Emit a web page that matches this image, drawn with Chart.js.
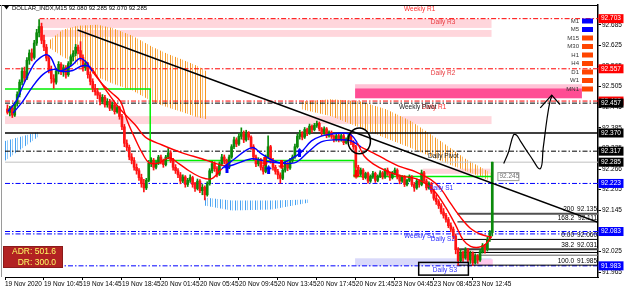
<!DOCTYPE html>
<html lang="en">
<head>
<meta charset="UTF-8">
<meta name="viewport" content="width=device-width, initial-scale=1.0">
<script src="https://cdn.jsdelivr.net/npm/chart.js@4.4.6/dist/chart.umd.min.js"></script>
<title>DOLLAR_INDX,M15</title>
<style>
  body { margin: 0; background: #fff; }
  #box { width: 625px; height: 288px; }
</style>
</head>
<body>
<div id="box"><canvas id="dxy"></canvas></div>
<script>
// M15 bars, one row = 10 bars
const opens = [
  92.440, 92.430, 92.442, 92.422, 92.455, 92.482, 92.518, 92.550, 92.530, 92.582,
  92.603, 92.590, 92.632, 92.662, 92.680, 92.640, 92.620, 92.588, 92.552, 92.528,
  92.518, 92.550, 92.570, 92.548, 92.560, 92.540, 92.572, 92.592, 92.602, 92.620,
  92.610, 92.590, 92.560, 92.572, 92.540, 92.520, 92.500, 92.490, 92.480, 92.462,
  92.474, 92.452, 92.462, 92.442, 92.452, 92.432, 92.444, 92.418, 92.388, 92.340,
  92.328, 92.300, 92.290, 92.270, 92.260, 92.240, 92.222, 92.210, 92.232, 92.282,
  92.290, 92.270, 92.282, 92.300, 92.288, 92.278, 92.300, 92.312, 92.290, 92.270,
  92.260, 92.248, 92.230, 92.242, 92.220, 92.232, 92.240, 92.220, 92.208, 92.230,
  92.202, 92.212, 92.190, 92.222, 92.260, 92.280, 92.266, 92.250, 92.280, 92.300,
  92.288, 92.270, 92.300, 92.330, 92.350, 92.338, 92.360, 92.370, 92.350, 92.370,
  92.358, 92.330, 92.300, 92.280, 92.292, 92.270, 92.258, 92.300, 92.330, 92.290,
  92.270, 92.258, 92.248, 92.238, 92.262, 92.280, 92.268, 92.290, 92.300, 92.330,
  92.360, 92.370, 92.358, 92.380, 92.370, 92.390, 92.380, 92.392, 92.398, 92.382,
  92.370, 92.382, 92.362, 92.372, 92.360, 92.350, 92.362, 92.350, 92.362, 92.342,
  92.352, 92.362, 92.342, 92.330, 92.270, 92.250, 92.262, 92.240, 92.252, 92.230,
  92.242, 92.252, 92.232, 92.244, 92.254, 92.242, 92.262, 92.250, 92.240, 92.252,
  92.262, 92.242, 92.230, 92.242, 92.220, 92.232, 92.242, 92.220, 92.210, 92.230,
  92.220, 92.254, 92.230, 92.210, 92.222, 92.200, 92.180, 92.170, 92.158, 92.140,
  92.130, 92.118, 92.100, 92.090, 92.070, 92.030, 91.998, 92.022, 92.006, 92.030,
  92.000, 92.020, 91.992, 92.012, 92.000, 92.024, 92.042, 92.030, 92.060, 92.080
];
const highs = [
  92.452, 92.448, 92.450, 92.460, 92.490, 92.525, 92.560, 92.562, 92.590, 92.612,
  92.615, 92.640, 92.672, 92.700, 92.690, 92.655, 92.628, 92.595, 92.565, 92.540,
  92.558, 92.578, 92.575, 92.568, 92.566, 92.578, 92.598, 92.610, 92.628, 92.626,
  92.636, 92.598, 92.580, 92.576, 92.548, 92.528, 92.512, 92.500, 92.488, 92.482,
  92.480, 92.470, 92.468, 92.460, 92.458, 92.450, 92.448, 92.424, 92.395, 92.350,
  92.335, 92.310, 92.298, 92.280, 92.266, 92.250, 92.235, 92.238, 92.290, 92.298,
  92.296, 92.288, 92.305, 92.306, 92.294, 92.305, 92.325, 92.318, 92.296, 92.278,
  92.266, 92.255, 92.248, 92.246, 92.238, 92.248, 92.244, 92.226, 92.236, 92.234,
  92.220, 92.216, 92.228, 92.266, 92.288, 92.286, 92.272, 92.286, 92.308, 92.306,
  92.294, 92.306, 92.336, 92.358, 92.356, 92.368, 92.385, 92.376, 92.378, 92.374,
  92.362, 92.336, 92.306, 92.298, 92.296, 92.276, 92.306, 92.362, 92.334, 92.296,
  92.276, 92.264, 92.254, 92.268, 92.288, 92.284, 92.296, 92.306, 92.338, 92.366,
  92.378, 92.374, 92.386, 92.384, 92.396, 92.394, 92.398, 92.405, 92.402, 92.386,
  92.388, 92.386, 92.376, 92.376, 92.364, 92.366, 92.366, 92.368, 92.366, 92.356,
  92.368, 92.366, 92.348, 92.334, 92.276, 92.268, 92.266, 92.256, 92.256, 92.248,
  92.258, 92.256, 92.248, 92.260, 92.258, 92.266, 92.268, 92.256, 92.258, 92.268,
  92.266, 92.248, 92.246, 92.246, 92.236, 92.248, 92.246, 92.226, 92.236, 92.234,
  92.262, 92.258, 92.236, 92.228, 92.226, 92.206, 92.190, 92.176, 92.164, 92.150,
  92.136, 92.124, 92.108, 92.096, 92.076, 92.036, 92.030, 92.026, 92.036, 92.034,
  92.026, 92.024, 92.018, 92.016, 92.030, 92.048, 92.046, 92.066, 92.086, 92.285
];
const lows = [
  92.425, 92.420, 92.415, 92.418, 92.448, 92.475, 92.510, 92.520, 92.525, 92.570,
  92.580, 92.585, 92.625, 92.650, 92.630, 92.610, 92.580, 92.545, 92.515, 92.500,
  92.512, 92.542, 92.540, 92.535, 92.530, 92.535, 92.565, 92.580, 92.595, 92.600,
  92.580, 92.550, 92.552, 92.530, 92.510, 92.490, 92.480, 92.470, 92.452, 92.455,
  92.445, 92.445, 92.435, 92.436, 92.425, 92.428, 92.410, 92.380, 92.330, 92.318,
  92.292, 92.280, 92.262, 92.250, 92.232, 92.212, 92.198, 92.205, 92.228, 92.272,
  92.262, 92.265, 92.278, 92.280, 92.270, 92.274, 92.295, 92.284, 92.262, 92.252,
  92.240, 92.222, 92.225, 92.212, 92.214, 92.226, 92.212, 92.200, 92.204, 92.196,
  92.190, 92.175, 92.186, 92.218, 92.254, 92.258, 92.242, 92.246, 92.274, 92.280,
  92.262, 92.266, 92.296, 92.324, 92.330, 92.334, 92.352, 92.342, 92.346, 92.350,
  92.322, 92.292, 92.272, 92.274, 92.262, 92.250, 92.254, 92.296, 92.282, 92.262,
  92.250, 92.236, 92.224, 92.234, 92.256, 92.260, 92.264, 92.284, 92.296, 92.326,
  92.352, 92.350, 92.354, 92.362, 92.366, 92.372, 92.376, 92.386, 92.376, 92.362,
  92.366, 92.356, 92.358, 92.354, 92.344, 92.346, 92.344, 92.346, 92.336, 92.338,
  92.348, 92.336, 92.322, 92.262, 92.244, 92.246, 92.234, 92.236, 92.224, 92.226,
  92.238, 92.226, 92.228, 92.240, 92.236, 92.238, 92.246, 92.232, 92.236, 92.248,
  92.236, 92.222, 92.226, 92.214, 92.216, 92.228, 92.214, 92.200, 92.206, 92.212,
  92.216, 92.224, 92.204, 92.206, 92.194, 92.174, 92.162, 92.150, 92.134, 92.122,
  92.110, 92.094, 92.082, 92.062, 92.018, 91.985, 91.994, 91.996, 92.002, 91.992,
  91.990, 91.984, 91.988, 91.990, 91.996, 92.020, 92.020, 92.026, 92.054, 92.070
];
const closes = [
  92.430, 92.442, 92.422, 92.455, 92.482, 92.518, 92.550, 92.530, 92.582, 92.603,
  92.590, 92.632, 92.662, 92.680, 92.640, 92.620, 92.588, 92.552, 92.528, 92.518,
  92.550, 92.570, 92.548, 92.560, 92.540, 92.572, 92.592, 92.602, 92.620, 92.610,
  92.590, 92.560, 92.572, 92.540, 92.520, 92.500, 92.490, 92.480, 92.462, 92.474,
  92.452, 92.462, 92.442, 92.452, 92.432, 92.444, 92.418, 92.388, 92.340, 92.328,
  92.300, 92.290, 92.270, 92.260, 92.240, 92.222, 92.210, 92.232, 92.282, 92.290,
  92.270, 92.282, 92.300, 92.288, 92.278, 92.300, 92.312, 92.290, 92.270, 92.260,
  92.248, 92.230, 92.242, 92.220, 92.232, 92.240, 92.220, 92.208, 92.230, 92.202,
  92.212, 92.190, 92.222, 92.260, 92.280, 92.266, 92.250, 92.280, 92.300, 92.288,
  92.270, 92.300, 92.330, 92.350, 92.338, 92.360, 92.370, 92.350, 92.370, 92.358,
  92.330, 92.300, 92.280, 92.292, 92.270, 92.258, 92.300, 92.330, 92.290, 92.270,
  92.258, 92.248, 92.238, 92.262, 92.280, 92.268, 92.290, 92.300, 92.330, 92.360,
  92.370, 92.358, 92.380, 92.370, 92.390, 92.380, 92.392, 92.398, 92.382, 92.370,
  92.382, 92.362, 92.372, 92.360, 92.350, 92.362, 92.350, 92.362, 92.342, 92.352,
  92.362, 92.342, 92.330, 92.270, 92.250, 92.262, 92.240, 92.252, 92.230, 92.242,
  92.252, 92.232, 92.244, 92.254, 92.242, 92.262, 92.250, 92.240, 92.252, 92.262,
  92.242, 92.230, 92.242, 92.220, 92.232, 92.242, 92.220, 92.210, 92.230, 92.220,
  92.254, 92.230, 92.210, 92.222, 92.200, 92.180, 92.170, 92.158, 92.140, 92.130,
  92.118, 92.100, 92.090, 92.070, 92.030, 91.998, 92.022, 92.006, 92.030, 92.000,
  92.020, 91.992, 92.012, 92.000, 92.024, 92.042, 92.030, 92.060, 92.080, 92.285
];

// axes
const xTickIdx = [0, 16, 32, 48, 64, 80, 96, 112, 128, 144, 160, 176, 192];
const xTickLabels = ['19 Nov 2020', '19 Nov 10:45', '19 Nov 14:45', '19 Nov 18:45', '20 Nov 01:45', '20 Nov 05:45',
  '20 Nov 09:45', '20 Nov 13:45', '20 Nov 17:45', '20 Nov 21:45', '23 Nov 04:45', '23 Nov 08:45', '23 Nov 12:45'];
const yTickValues = [92.685, 92.625, 92.565, 92.505, 92.445, 92.385, 92.325, 92.265, 92.205, 92.145, 92.085, 92.025, 91.965];
const yTickLabels = ['92.685', '92.625', '92.565', '92.505', '92.445', '92.385', '92.325', '92.266', '92.205', '92.145', '92.085', '92.025', '91.965'];

// moving averages (bar index / price)
const fastMaX = [1.2, 4.5, 7.3, 10.2, 12.7, 16.7, 18.8, 21.6, 24.5, 27.8, 30.6, 33.1, 35.9, 40, 44.1, 47.4, 50.2, 53.5, 56.3, 59.2,
  63.3, 67.4, 71.5, 75.5, 80.8, 84.9, 89, 94.3, 99.2, 102.1, 105.3, 109.4, 113.5, 117.6, 121.7, 125.8, 129.8, 133.9, 138.8, 142.1,
  144.6, 147.4, 151.1, 156.4, 162.5, 168.6, 172.7, 176.8, 180.9, 185, 188.2, 191.1, 194.4, 197.2, 199.7];
const fastMaY = [92.433, 92.462, 92.506, 92.549, 92.578, 92.598, 92.590, 92.552, 92.555, 92.569, 92.587, 92.578, 92.549, 92.512, 92.485,
  92.462, 92.405, 92.352, 92.312, 92.283, 92.283, 92.298, 92.280, 92.260, 92.240, 92.237, 92.266, 92.295, 92.321, 92.327, 92.309,
  92.292, 92.283, 92.295, 92.315, 92.347, 92.361, 92.367, 92.370, 92.364, 92.341, 92.303, 92.280, 92.260, 92.245, 92.237, 92.222,
  92.196, 92.153, 92.101, 92.057, 92.040, 92.037, 92.046, 92.069];
const slowMaX = [3.3, 7.3, 11.4, 15.5, 19.6, 23.7, 27.8, 31.8, 35.1, 38, 41.2, 47, 53.5, 57.6, 64.5, 72.7, 80.8, 87, 91.9, 101.3,
  108.2, 118.8, 124.5, 129.8, 136, 142.1, 146.2, 151.1, 156.4, 162.5, 168.6, 174.8, 178.8, 182.9, 187, 191.1, 195.2, 199.7];
const slowMaY = [92.428, 92.462, 92.506, 92.540, 92.555, 92.549, 92.552, 92.566, 92.561, 92.532, 92.497, 92.442, 92.393, 92.358,
  92.335, 92.312, 92.295, 92.280, 92.274, 92.295, 92.286, 92.283, 92.315, 92.344, 92.350, 92.347, 92.329, 92.312, 92.292, 92.271,
  92.257, 92.234, 92.208, 92.165, 92.124, 92.092, 92.075, 92.066];
const upSpans = [[0, 34.5], [87.5, 144.3]];

// cloud indicator edges
const orange1X = [17.6, 23.7, 29.8, 38.0, 44.1, 52.3, 60.4, 66.6, 72.7, 78.8, 82.9];
const orange1Top = [92.636, 92.671, 92.682, 92.685, 92.676, 92.653, 92.621, 92.601, 92.584, 92.566, 92.549];
const orange1Bot = [92.621, 92.592, 92.569, 92.532, 92.514, 92.494, 92.462, 92.445, 92.431, 92.416, 92.410];
const orange2X = [121.7, 133.9, 146.2, 156.4, 166.6, 178.8, 189.0, 199.3];
const orange2Top = [92.462, 92.468, 92.462, 92.439, 92.405, 92.347, 92.295, 92.254];
const orange2Bot = [92.439, 92.419, 92.384, 92.355, 92.326, 92.289, 92.260, 92.231];
const blue1X = [0, 13.5];
const blue1Top = [92.347, 92.373];
const blue1Bot = [92.289, 92.358];
const blue2X = [81.7, 93.1, 109.4, 124.5];
const blue2Top = [92.182, 92.173, 92.173, 92.176];
const blue2Bot = [92.159, 92.144, 92.147, 92.167];

// pivot levels
const levelPrices = [92.703, 92.557, 92.463, 92.457, 92.370, 92.317, 92.285, 92.223, 92.083, 92.076, 91.983];
const levelStart = [14.2, 0, 0, 0, 0, 0, 0, 0, 0, 0, 0];

// zones: bar index from/to, price high/low
const zoneFrom = [14.2, 14.2, 143.7, 143.7, 0, 171.5, 143.7, 194];
const zoneTo = [199.7, 199.7, 236.8, 236.8, 199.7, 199.3, 199.7, 200.2];
const zoneHigh = [92.702, 92.670, 92.512, 92.500, 92.419, 92.266, 92.005, 92.002];
const zoneLow = [92.676, 92.650, 92.500, 92.471, 92.396, 92.251, 91.982, 91.985];

// fibonacci
const fibLevels = ['200', '168.2', '0.00', '38.2', '50.0', '61.8', '100.0'];
const fibPrices = [92.135, 92.111, 92.060, 92.031, 92.022, 92.014, 91.985];
const fibCaption = [true, true, true, true, false, false, true];
const fibStart = 185.7;

// stop line, trend line, hand drawing
const stopX = [0, 59.6, 59.6, 143.3, 143.3, 199.5];
const stopY = [92.498, 92.498, 92.290, 92.290, 92.243, 92.243];
const trendX = [29.8, 243.4];
const trendY = [92.670, 92.110];
const sketchX = [204.7, 206.6, 208.7, 209.9, 211.5, 215.6, 219.7, 220.9, 222.5, 223.7, 224.6];
const sketchY = [92.281, 92.313, 92.364, 92.364, 92.347, 92.303, 92.266, 92.326, 92.413, 92.462, 92.480];
const headX = [219.7, 224.4, 227.8];
const headY = [92.443, 92.480, 92.453];

// fractal arrows
const upArrowX = [91.1, 108.2, 120.9];
const upArrowY = [92.266, 92.263, 92.313];
const downArrowX = [106.6, 113.5, 144.1];
const downArrowY = [92.286, 92.277, 92.250];

// price tags on the axis
const tagPrices = [92.703, 92.557, 92.463, 92.457, 92.370, 92.317, 92.285, 92.223, 92.083, 91.983];

const FONT = '"Liberation Sans", Arial, sans-serif';
const RED = '#ff0000', BLUE = '#0000ff', BULL = '#0b8a0b', BEAR = '#ff1414';
const DASHDOT = [5, 2, 1.5, 2];
const XMAX = 243.4;

function stripes(dark, light) {
  const c = document.createElement('canvas');
  c.width = 5; c.height = 4;
  const g = c.getContext('2d');
  g.fillStyle = dark; g.fillRect(0, 0, 1, 4);
  g.fillStyle = light; g.fillRect(2, 0, 1, 4);
  return g.createPattern(c, 'repeat');
}

function arrowIcon(color, up) {
  const c = document.createElement('canvas');
  c.width = 7; c.height = 9;
  const g = c.getContext('2d');
  g.fillStyle = color;
  g.beginPath();
  [[3.5, 0], [7, 4], [5, 4], [5, 9], [2, 9], [2, 4], [0, 4]].forEach(([a, b], k) => {
    const yy = up ? b : 9 - b;
    k ? g.lineTo(a, yy) : g.moveTo(a, yy);
  });
  g.closePath();
  g.fill();
  return c;
}

const pts = (xs, ys) => xs.map((x, k) => ({ x, y: ys[k] }));
const isUp = v => upSpans.some(([a, b]) => v >= a && v < b);
const candleColor = c => closes[c.dataIndex] >= opens[c.dataIndex] ? BULL : BEAR;
const bars = closes.map((c, k) => k + 1);

const datasets = [];
function cloud(xs, top, bot, pattern) {
  datasets.push({ data: pts(xs, top), borderColor: 'rgba(0,0,0,0)', borderWidth: 0, pointRadius: 0, fill: false, order: 100 });
  datasets.push({ data: pts(xs, bot), borderColor: 'rgba(0,0,0,0)', borderWidth: 0, pointRadius: 0, fill: '-1', backgroundColor: pattern, order: 100 });
}
const orangeFill = stripes('rgb(245,150,35)', 'rgb(250,192,115)');
const blueFill = stripes('rgb(70,160,240)', 'rgb(150,205,250)');
cloud(orange1X, orange1Top, orange1Bot, orangeFill);
cloud(orange2X, orange2Top, orange2Bot, orangeFill);
cloud(blue1X, blue1Top, blue1Bot, blueFill);
cloud(blue2X, blue2Top, blue2Bot, blueFill);

const levelLook = [
  { c: RED, d: DASHDOT }, { c: RED, d: DASHDOT }, { c: RED, d: DASHDOT }, { c: '#000', d: DASHDOT },
  { c: '#000', d: [], w: 1.6 }, { c: '#000', d: DASHDOT }, { c: '#c0c0c0', d: [] }, { c: BLUE, d: DASHDOT },
  { c: BLUE, d: DASHDOT }, { c: BLUE, d: DASHDOT }, { c: BLUE, d: DASHDOT }
];
levelPrices.forEach((p, k) => {
  datasets.push({
    data: [{ x: levelStart[k], y: p }, { x: XMAX, y: p }],
    borderColor: levelLook[k].c, borderDash: levelLook[k].d, borderWidth: levelLook[k].w || 1,
    pointRadius: 0, fill: false, order: 90
  });
});

const fibLook = [{ c: '#505050', w: 2 }, { c: '#000', w: 1 }, { c: '#000', w: 1 }, { c: '#404040', w: 2 },
  { c: '#000', w: 1 }, { c: '#606060', w: 1 }, { c: '#000', w: 1 }];
fibPrices.forEach((p, k) => {
  datasets.push({
    data: [{ x: fibStart, y: p }, { x: XMAX, y: p }],
    borderColor: fibLook[k].c, borderWidth: fibLook[k].w, pointRadius: 0, fill: false, order: 85
  });
});

datasets.push({ data: pts(stopX, stopY), borderColor: '#00ee00', borderWidth: 1.5, pointRadius: 0, fill: false, order: 80 });

datasets.push({
  type: 'bar', data: bars.map((x, k) => ({ x, y: [lows[k], highs[k]] })),
  backgroundColor: candleColor, barThickness: 1, grouped: false, order: 50
});
datasets.push({
  type: 'bar', data: bars.map((x, k) => ({ x, y: [opens[k], closes[k]] })),
  backgroundColor: candleColor, barThickness: 2, grouped: false, order: 49
});

function maSet(xs, ys) {
  return {
    data: pts(xs, ys), borderColor: RED, borderWidth: 1.4, pointRadius: 0, tension: 0.35, fill: false, order: 30,
    segment: { borderColor: s => isUp(s.p0.parsed.x) ? BLUE : RED }
  };
}
datasets.push(maSet(fastMaX, fastMaY));
datasets.push(maSet(slowMaX, slowMaY));

datasets.push({ data: pts(trendX, trendY), borderColor: '#000', borderWidth: 1.5, pointRadius: 0, fill: false, order: 20 });
datasets.push({ data: pts(sketchX, sketchY), borderColor: '#000', borderWidth: 1.2, pointRadius: 0, tension: 0.4, fill: false, order: 20 });
datasets.push({ data: pts(headX, headY), borderColor: '#000', borderWidth: 1.2, pointRadius: 0, fill: false, order: 20 });

datasets.push({ data: pts(upArrowX, upArrowY), showLine: false, pointStyle: arrowIcon(BLUE, true), pointRadius: 3, order: 10 });
datasets.push({ data: pts(downArrowX, downArrowY), showLine: false, pointStyle: arrowIcon(RED, false), pointRadius: 3, order: 10 });

function text(ctx, s, x, y, color, align, size, weight) {
  ctx.font = (weight || '') + ' ' + (size || 6.5) + 'px ' + FONT;
  ctx.fillStyle = color;
  ctx.textAlign = align || 'left';
  ctx.textBaseline = 'middle';
  ctx.fillText(s, x, y);
}

const zoneFill = ['#ffd6dc', '#ffd6dc', '#ffc2d6', '#ff4d94', '#ffd6dc', '#ffd6dc', '#d9d9fa', '#ffc8ec'];
const notes = [
  { t: 'Weekly R1', x: 163.8, y: 92.732, c: '#ff2b2b' },
  { t: 'Daily R3', x: 174.8, y: 92.692, c: '#e8383d' },
  { t: 'Daily R2', x: 174.8, y: 92.544, c: '#e8383d' },
  { t: 'Daily R1', x: 171.1, y: 92.445, c: '#ff2b2b' },
  { t: 'Weekly Pivot', x: 161.7, y: 92.445, c: '#1a1a1a' },
  { t: 'Daily Pivot', x: 173.6, y: 92.303, c: '#1a1a1a' },
  { t: 'Daily S1', x: 174.0, y: 92.209, c: '#2a2aff' },
  { t: 'Weekly S1', x: 163.8, y: 92.069, c: '#2a2aff' },
  { t: 'Daily S2', x: 174.8, y: 92.060, c: '#2a2aff' },
  { t: 'Daily S3', x: 175.6, y: 91.971, c: '#2a2aff' }
];
const tfNames = ['M1', 'M5', 'M15', 'M30', 'H1', 'H4', 'D1', 'W1', 'MN1'];
const tagColors = [RED, RED, RED, '#000', '#000', '#000', '#000', BLUE, BLUE, BLUE];

const overlay = {
  id: 'overlay',
  beforeDatasetsDraw(chart) {
    const { ctx, chartArea: a, scales: { x, y } } = chart;
    ctx.save();
    ctx.beginPath(); ctx.rect(a.left, a.top, a.right - a.left, a.bottom - a.top); ctx.clip();
    zoneFrom.forEach((f, k) => {
      const x0 = x.getPixelForValue(f), x1 = x.getPixelForValue(zoneTo[k]);
      const y0 = y.getPixelForValue(zoneHigh[k]), y1 = y.getPixelForValue(zoneLow[k]);
      ctx.fillStyle = zoneFill[k];
      ctx.fillRect(x0, y0, x1 - x0, y1 - y0);
    });
    ctx.restore();
  },
  afterDatasetsDraw(chart) {
    const { ctx, chartArea: a, scales: { x, y } } = chart;
    ctx.save();
    // ellipse around the turn
    ctx.strokeStyle = '#000'; ctx.lineWidth = 1.5;
    const cx = x.getPixelForValue(145.4), cy = y.getPixelForValue(92.347);
    const rx = x.getPixelForValue(145.4 + 4.6) - cx, ry = cy - y.getPixelForValue(92.347 + 0.0376);
    ctx.beginPath(); ctx.ellipse(cx, cy, rx, ry, 0, 0, Math.PI * 2); ctx.stroke();

    notes.forEach(n => text(ctx, n.t, x.getPixelForValue(n.x), y.getPixelForValue(n.y), n.c));

    // Daily S3 box
    const bx0 = x.getPixelForValue(169.8), bx1 = x.getPixelForValue(190.2);
    const by0 = y.getPixelForValue(91.993), by1 = y.getPixelForValue(91.956);
    ctx.strokeStyle = '#000'; ctx.lineWidth = 1.5;
    ctx.strokeRect(bx0, by0, bx1 - bx0, by1 - by0);

    // fibo captions
    fibPrices.forEach((p, k) => {
      if (!fibCaption[k]) return;
      const yy = y.getPixelForValue(p) - 4;
      text(ctx, fibLevels[k], 574, yy, '#000', 'right', 6.5);
      text(ctx, p.toFixed(3), 597, yy, '#000', 'right', 6.5);
    });

    // stop level tag
    const sx = x.getPixelForValue(202.1), sy = y.getPixelForValue(92.243);
    ctx.fillStyle = '#fff'; ctx.fillRect(sx, sy - 4.5, 21, 9);
    ctx.strokeStyle = '#9a9a9a'; ctx.lineWidth = 1; ctx.strokeRect(sx + 0.5, sy - 4, 21, 8);
    text(ctx, '92.245', sx + 2, sy, '#707070');

    // timeframe panel
    tfNames.forEach((n, k) => {
      const yy = 21 + k * 8.5;
      text(ctx, n, 579, yy, '#333', 'right', 6);
      ctx.fillStyle = k < 2 ? BLUE : '#ff4500';
      ctx.fillRect(582, yy - 2.5, 11, 5);
    });

    // title
    ctx.fillStyle = '#000';
    ctx.beginPath(); ctx.moveTo(4, 6); ctx.lineTo(9, 6); ctx.lineTo(6.5, 9.5); ctx.closePath(); ctx.fill();
    text(ctx, 'DOLLAR_INDX,M15 92.080 92.285 92.070 92.285', 12, 8, '#000', 'left', 6);

    // ADR box
    ctx.fillStyle = '#b22222'; ctx.fillRect(3, 246, 60, 22);
    ctx.strokeStyle = '#8b1a1a'; ctx.lineWidth = 1; ctx.strokeRect(3.5, 246.5, 59, 21);
    text(ctx, 'ADR: 501.6', 56, 252, '#ffff66', 'right', 8.5, '');
    text(ctx, 'DR: 300.0', 56, 262.5, '#ffff66', 'right', 8.5, '');

    // frame
    ctx.strokeStyle = '#000'; ctx.lineWidth = 1;
    ctx.beginPath(); ctx.moveTo(0, a.top + 0.5); ctx.lineTo(a.right, a.top + 0.5); ctx.stroke();
    ctx.strokeStyle = '#9a9a9a';
    ctx.beginPath(); ctx.moveTo(1.5, a.top); ctx.lineTo(1.5, a.bottom); ctx.stroke();
    ctx.restore();
  },
  afterDraw(chart) {
    const { ctx, chartArea: a, scales: { y } } = chart;
    ctx.save();
    tagPrices.forEach((p, k) => {
      const yy = y.getPixelForValue(p);
      ctx.fillStyle = tagColors[k];
      ctx.fillRect(a.right + 0.5, yy - 4.5, 25, 9);
      text(ctx, p.toFixed(3), a.right + 3, yy, '#fff', 'left', 6.5);
    });
    ctx.restore();
  }
};

new Chart(document.getElementById('dxy'), {
  type: 'line',
  data: { datasets },
  options: {
    responsive: true,
    maintainAspectRatio: false,
    animation: false,
    devicePixelRatio: 1,
    events: [],
    layout: { padding: { left: 2, top: 3, right: 0, bottom: 0 } },
    plugins: { legend: { display: false }, tooltip: { enabled: false } },
    scales: {
      x: {
        type: 'linear', min: 0, max: XMAX, offset: false,
        grid: { drawOnChartArea: false, drawTicks: true, tickLength: 3, color: '#000', offset: false },
        border: { display: true, color: '#000', width: 1 },
        ticks: {
          autoSkip: false, maxRotation: 0, align: 'start', padding: 0, color: '#000',
          font: { family: FONT, size: 6.5 },
          callback: (v, i) => xTickLabels[i]
        },
        afterBuildTicks: s => { s.ticks = xTickIdx.map(v => ({ value: v })); },
        afterFit: s => { s.height = 11; s.paddingLeft = 0; s.paddingRight = 0; }
      },
      y: {
        type: 'linear', position: 'right', min: 91.9505, max: 92.7428,
        grid: { drawOnChartArea: false, drawTicks: true, tickLength: 3, color: '#000' },
        border: { display: true, color: '#000', width: 1.5 },
        ticks: {
          autoSkip: false, padding: 1, color: '#000',
          font: { family: FONT, size: 6.5 },
          callback: (v, i) => yTickLabels[i]
        },
        afterBuildTicks: s => { s.ticks = yTickValues.map(v => ({ value: v })); },
        afterFit: s => { s.width = 27; s.paddingTop = 0; s.paddingBottom = 0; }
      }
    }
  },
  plugins: [overlay]
});
</script>
</body>
</html>
